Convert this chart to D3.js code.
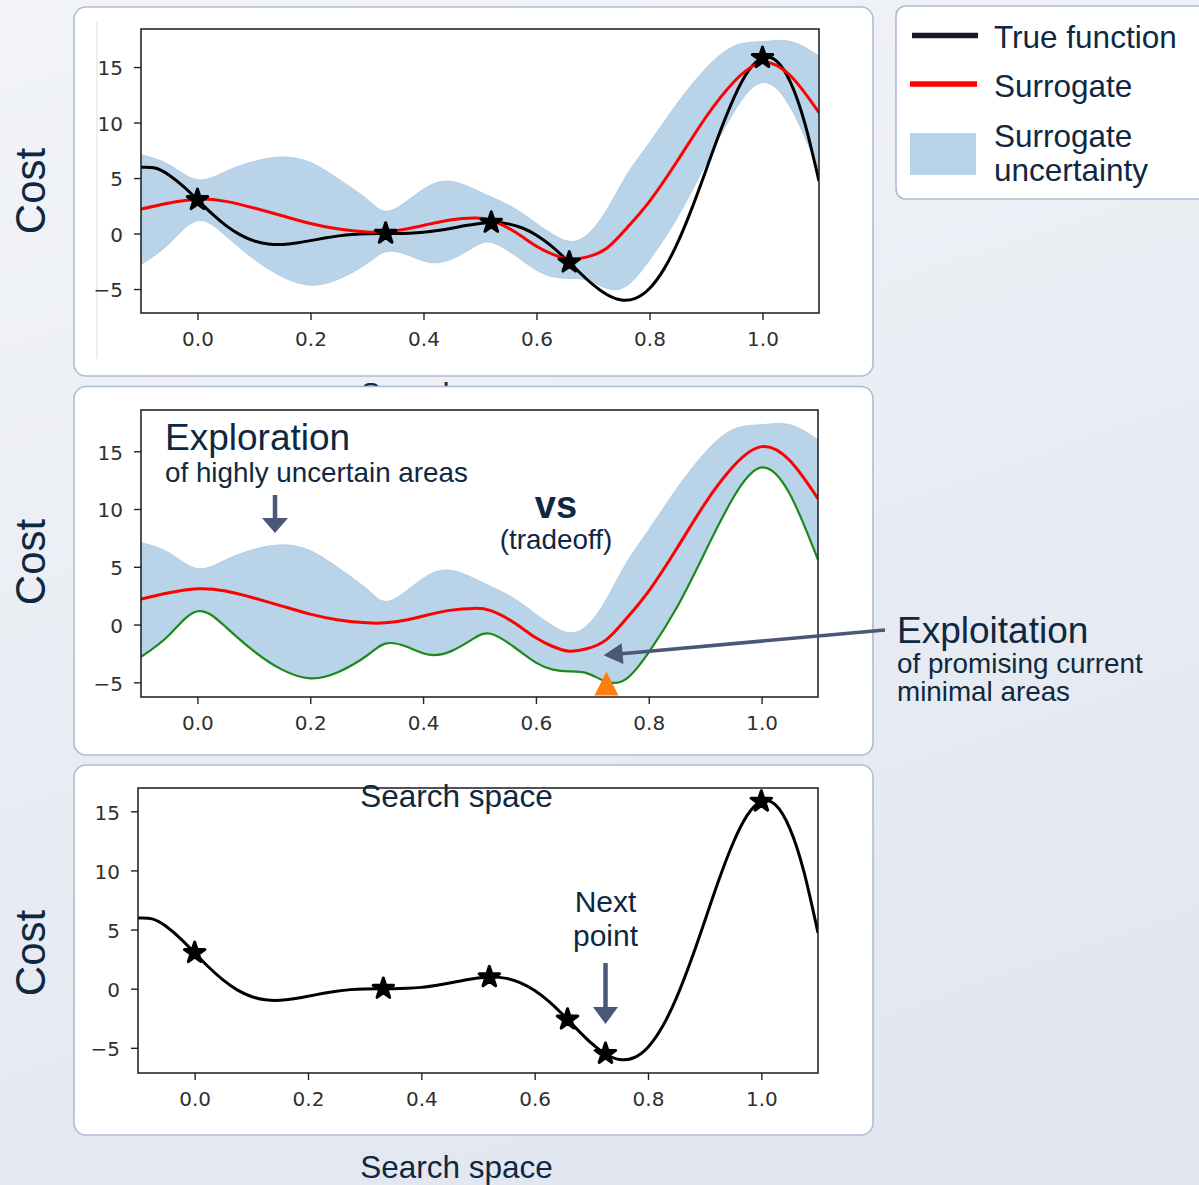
<!DOCTYPE html>
<html><head><meta charset="utf-8">
<script src="https://cdn.jsdelivr.net/npm/d3@7"></script>
<style>body{margin:0;background:#eef0f4;} svg{display:block;}</style>
</head><body>
<svg id="c" width="1199" height="1185"></svg>
<script>
// ---------------- DATA ----------------
const trueX = [-0.1,-0.075,-0.05,-0.025,0,0.025,0.05,0.075,0.1,0.125,0.15,0.175,0.2,0.225,0.25,0.275,0.3,0.325,0.35,0.375,0.4,0.425,0.45,0.475,0.5,0.525,0.55,0.575,0.6,0.625,0.65,0.675,0.7,0.725,0.75,0.775,0.8,0.825,0.85,0.875,0.9,0.925,0.95,0.975,1.0,1.025,1.05,1.075,1.1];
const trueY = [5.97,5.90,5.26,4.24,3.03,1.81,0.74,-0.10,-0.66,-0.94,-0.98,-0.85,-0.64,-0.41,-0.21,-0.08,-0.02,0.00,0.00,0.03,0.11,0.27,0.48,0.72,0.91,0.99,0.87,0.50,-0.15,-1.07,-2.21,-3.44,-4.61,-5.52,-5.99,-5.84,-4.95,-3.25,-0.80,2.27,5.71,9.19,12.30,14.65,15.83,15.54,13.58,9.92,4.72];

const gpX     = [-0.1,-0.05,0,0.05,0.1,0.15,0.2,0.25,0.3,0.333,0.37,0.41,0.45,0.49,0.52,0.56,0.6,0.63,0.658,0.69,0.725,0.76,0.8,0.85,0.9,0.95,1.0,1.05,1.1];
const gpMean  = [2.2,2.75,3.1,2.9,2.3,1.6,0.9,0.4,0.15,0.15,0.4,0.85,1.25,1.4,1.2,0.2,-1.15,-1.9,-2.3,-2.1,-1.3,0.5,2.9,6.6,10.5,13.7,15.4,14.2,10.9];
const gpUpper = [7.1,6.2,4.85,5.6,6.5,6.9,6.4,4.9,3.1,2.0,2.9,4.3,4.7,4.0,3.3,2.3,0.9,-0.1,-0.7,-0.1,2.2,5.3,8.2,11.8,14.9,16.9,17.3,17.3,16.0];
const gpLower = [-2.8,-0.9,1.15,-0.2,-2.3,-3.9,-4.65,-4.1,-2.7,-1.65,-1.9,-2.6,-2.3,-1.2,-0.8,-1.9,-3.3,-3.9,-4.05,-4.2,-4.95,-4.7,-2.4,1.5,6.3,11.0,13.6,11.3,5.6];

const obsX = [0, 0.333, 0.52, 0.658, 1.0];
const obsY = [3.03, 0.0, 0.98, -2.6, 15.83];
const nextX = [0.725];
const nextY = [-5.5];
const acqX = [0.725];
const acqY = [-5.1];

const xTicks = [0, 0.2, 0.4, 0.6, 0.8, 1.0];
const yTicks = [-5, 0, 5, 10, 15];
const legendLabels = ["True function", "Surrogate", "Surrogate", "uncertainty"];

// ---------------- SETUP ----------------
const W = 1199, H = 1185;
const TXT = "#0e2841", ARW = "#4a5777", BAND = "#b9d3e8", FONT = "'Liberation Sans', Arial, sans-serif";
const svg = d3.select("#c");
const defs = svg.append("defs");
const grad = defs.append("linearGradient").attr("id","bg").attr("x1","0").attr("y1","0").attr("x2","0.35").attr("y2","1");
grad.append("stop").attr("offset","0").attr("stop-color","#f2f4f7");
grad.append("stop").attr("offset","1").attr("stop-color","#e3e7f0");
svg.append("rect").attr("width",W).attr("height",H).attr("fill","url(#bg)");

const xDomain = [-0.1, 1.1];
const panels = [
  {box:[74,7,799,369], plot:[141,29,819,313], yDom:[-7.16,18.43], band:true, mean:true, truth:true, lower:false, acq:false, stars:[obsX,obsY], costY:191, guide:true},
  {box:[74,386.5,799,368.5], plot:[141,410,818,697], yDom:[-6.27,18.57], band:true, mean:true, truth:false, lower:true, acq:true, stars:null, costY:562},
  {box:[74,765,799,370], plot:[138,788,818,1073], yDom:[-7.13,16.97], band:false, mean:false, truth:true, lower:false, acq:false, stars:[obsX.concat(nextX), obsY.concat(nextY)], costY:953}
];

const tri = { draw(ctx, size){ const r = Math.sqrt(size)/2; ctx.moveTo(0,-r); ctx.lineTo(r,r); ctx.lineTo(-r,r); ctx.closePath(); } };

function drawPanel(p, i) {
  const g = svg.append("g");
  g.append("rect").attr("x",p.box[0]).attr("y",p.box[1]).attr("width",p.box[2]).attr("height",p.box[3])
    .attr("rx",12).attr("fill","#fff").attr("stroke","#aebcd3").attr("stroke-width",1.6);
  if (p.guide) g.append("line").attr("x1",97).attr("x2",97).attr("y1",22).attr("y2",359).attr("stroke","#dcdcdc").attr("stroke-width",1);
  const x = d3.scaleLinear().domain(xDomain).range([p.plot[0], p.plot[2]]);
  const y = d3.scaleLinear().domain(p.yDom).range([p.plot[3], p.plot[1]]);
  const cid = "clip" + i;
  defs.append("clipPath").attr("id",cid).append("rect")
    .attr("x",p.plot[0]).attr("y",p.plot[1]).attr("width",p.plot[2]-p.plot[0]).attr("height",p.plot[3]-p.plot[1]);
  const pg = g.append("g").attr("clip-path",`url(#${cid})`);
  const curve = d3.curveNatural;
  if (p.band) {
    const area = d3.area().x((d,k)=>x(gpX[k])).y0((d,k)=>y(gpLower[k])).y1((d,k)=>y(gpUpper[k])).curve(curve);
    pg.append("path").attr("d", area(gpX)).attr("fill", BAND).attr("stroke","#a9c8e2").attr("stroke-width",0.8);
  }
  if (p.truth) {
    const line = d3.line().x((d,k)=>x(trueX[k])).y((d,k)=>y(trueY[k])).curve(curve);
    pg.append("path").attr("d", line(trueX)).attr("fill","none").attr("stroke","#000").attr("stroke-width",3);
  }
  if (p.mean) {
    const line = d3.line().x((d,k)=>x(gpX[k])).y((d,k)=>y(gpMean[k])).curve(curve);
    pg.append("path").attr("d", line(gpX)).attr("fill","none").attr("stroke","#ff0000").attr("stroke-width",3);
  }
  if (p.lower) {
    const line = d3.line().x((d,k)=>x(gpX[k])).y((d,k)=>y(gpLower[k])).curve(curve);
    pg.append("path").attr("d", line(gpX)).attr("fill","none").attr("stroke","#1b8a1b").attr("stroke-width",2.2);
  }
  if (p.acq) {
    pg.selectAll("path.acq").data(acqX).join("path").attr("class","acq")
      .attr("d", d3.symbol(tri, 576)())
      .attr("transform",(d,k)=>`translate(${x(d)},${y(acqY[k])})`).attr("fill","#ff7f0e");
  }
  g.append("rect").attr("x",p.plot[0]).attr("y",p.plot[1]).attr("width",p.plot[2]-p.plot[0]).attr("height",p.plot[3]-p.plot[1])
    .attr("fill","none").attr("stroke","#1a1a1a").attr("stroke-width",1.5);

  const ax = g.append("g").attr("transform",`translate(0,${p.plot[3]})`)
    .call(d3.axisBottom(x).tickValues(xTicks).tickFormat(d3.format(".1f")).tickSize(7).tickPadding(12).tickSizeOuter(0));
  const ay = g.append("g").attr("transform",`translate(${p.plot[0]},0)`)
    .call(d3.axisLeft(y).tickValues(yTicks).tickFormat(d3.format("d")).tickSize(7).tickPadding(11).tickSizeOuter(0));
  [ax, ay].forEach(a => {
    a.select(".domain").remove();
    a.selectAll("line").attr("stroke","#222").attr("stroke-width",1.4);
    a.selectAll("text").attr("font-family","'DejaVu Sans', sans-serif").attr("font-size",20).attr("fill","#303030");
  });
  ay.selectAll("text").attr("y",1.5);

  if (p.stars) {
    const [sx, sy] = p.stars;
    g.selectAll("path.star").data(sx).join("path").attr("class","star")
      .attr("d", d3.symbol(d3.symbolStar, 130)())
      .attr("transform",(d,k)=>`translate(${x(d)},${y(sy[k])})`)
      .attr("fill","#000").attr("stroke","#000").attr("stroke-width",3).attr("stroke-linejoin","round");
  }
  svg.append("text").attr("transform",`translate(45,${p.costY}) rotate(-90)`).attr("text-anchor","middle")
    .attr("font-family",FONT).attr("font-size",42).attr("fill",TXT).text("Cost");
  return {x, y};
}

function label(txt, x, y, size, anchor, weight) {
  svg.append("text").attr("x",x).attr("y",y).attr("font-family",FONT).attr("font-size",size)
    .attr("text-anchor",anchor || "start").attr("font-weight",weight || "normal").attr("fill",TXT).text(txt);
}
function arrow(x1,y1,x2,y2,hl,hw,sw){
  const dx=x2-x1, dy=y2-y1, L=Math.hypot(dx,dy), ux=dx/L, uy=dy/L;
  const bx=x2-ux*hl, by=y2-uy*hl;
  svg.append("line").attr("x1",x1).attr("y1",y1).attr("x2",bx+ux).attr("y2",by+uy).attr("stroke",ARW).attr("stroke-width",sw);
  svg.append("path").attr("d",`M${x2},${y2}L${bx-uy*hw/2},${by+ux*hw/2}L${bx+uy*hw/2},${by-ux*hw/2}Z`).attr("fill",ARW);
}

// ---------------- DRAW ----------------
const s1 = drawPanel(panels[0], 0);
label("Search space", 456.5, 405, 31.5, "middle");
const s2 = drawPanel(panels[1], 1);
const s3 = drawPanel(panels[2], 2);
label("Search space", 456.5, 807, 31.5, "middle");
label("Search space", 456.5, 1178, 31.5, "middle");

// Legend
svg.append("rect").attr("x",896).attr("y",6).attr("width",330).attr("height",193).attr("rx",10)
  .attr("fill","#fff").attr("stroke","#aebcd3").attr("stroke-width",1.6);
svg.append("line").attr("x1",912).attr("x2",978).attr("y1",35.5).attr("y2",35.5).attr("stroke","#161b26").attr("stroke-width",5.5);
svg.append("line").attr("x1",910).attr("x2",977).attr("y1",84).attr("y2",84).attr("stroke","#ff0000").attr("stroke-width",5.5);
svg.append("rect").attr("x",910).attr("y",133).attr("width",66).attr("height",42).attr("fill",BAND);
label(legendLabels[0], 994, 48, 31.5);
label(legendLabels[1], 994, 97, 31.5);
label(legendLabels[2], 994, 146.5, 31.5);
label(legendLabels[3], 994, 180.5, 31.5);

// Panel 2 annotations
label("Exploration", 165, 450, 37);
label("of highly uncertain areas", 165, 482, 27.8);
arrow(275, 495, 275, 533, 15, 26, 4.5);
label("vs", 556, 518, 38, "middle", "bold");
label("(tradeoff)", 556, 549, 27.8, "middle");
label("Exploitation", 897, 643, 37);
label("of promising current", 897, 673, 27.8);
label("minimal areas", 897, 701, 27.8);
arrow(885, 630, s2.x(0.72), s2.y(-2.66), 19, 21, 3.5);

// Panel 3 annotation
label("Next", s3.x(0.725), 912, 30, "middle");
label("point", s3.x(0.725), 946, 30, "middle");
arrow(s3.x(0.725), 963, s3.x(0.725), 1024, 17, 25, 4.5);
</script>
</body></html>
